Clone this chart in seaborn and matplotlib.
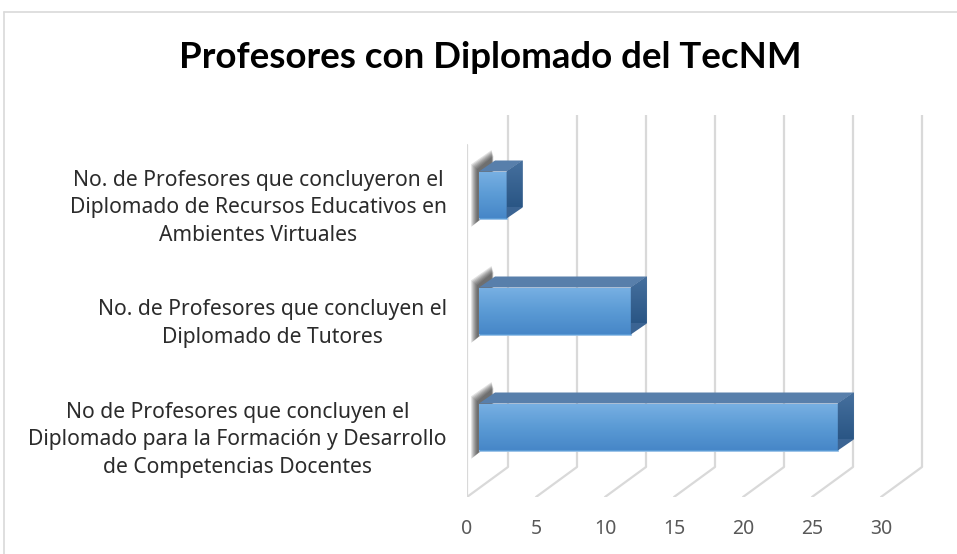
import numpy as np
import pandas as pd
import matplotlib
matplotlib.use("Agg")
import matplotlib.pyplot as plt
import matplotlib.transforms as mtransforms
from matplotlib.patches import Polygon
from matplotlib.colors import LinearSegmentedColormap
import seaborn as sns

categories = [
    "No. de Profesores que concluyeron el\nDiplomado de Recursos Educativos en\nAmbientes Virtuales",
    "No. de Profesores que concluyen el\nDiplomado de Tutores",
    "No de Profesores que concluyen el\nDiplomado para la Formación y Desarrollo\nde Competencias Docentes",
]
values = [2, 11, 26]
tick_values = [0, 5, 10, 15, 20, 25, 30]
title = "Profesores con Diplomado del TecNM"

sns.set_theme(style="white")
plt.rcParams["font.family"] = ["Noto Sans", "DejaVu Sans"]

W, H = 957, 554
fig = plt.figure(figsize=(W / 100, H / 100), dpi=100)

# pixel geometry of the plot box
px_left, px_right, px_top, px_bot = 467, 950, 100, 497
ax = fig.add_axes([px_left / W, 1 - px_bot / H, (px_right - px_left) / W, (px_bot - px_top) / H])

sx = 13.8      # pixels per unit
bar0 = 479     # pixel of value 0 on bar front plane
cy0, cstep = 195, 116  # category centers

def xd(px):
    return (px - bar0) / sx

def yd(py):
    return (py - cy0) / cstep

df = pd.DataFrame({"cat": categories, "val": values})
sns.barplot(data=df, x="val", y="cat", orient="h", width=47 / cstep,
            color="#5b9bd5", ax=ax, zorder=5, saturation=1)
ax.set_xlim(xd(px_left), xd(px_right))
ax.set_ylim(yd(px_bot), yd(px_top))

front_off_x = xd(467)
back_off_x = xd(508)
y_floor_front, y_floor_back = yd(497), yd(467)
y_top_front, y_top_back = yd(145), yd(115)
grid_c = "#d9d9d9"

for v in tick_values:
    xb = v + back_off_x
    xf = v + front_off_x
    ax.plot([xb, xb], [y_top_back, y_floor_back], color=grid_c, lw=1.6, zorder=1, solid_capstyle="butt")
    ax.plot([xb, xf], [y_floor_back, y_floor_front], color=grid_c, lw=1.6, zorder=1)
ax.plot([front_off_x, front_off_x], [y_top_front, y_floor_front], color=grid_c, lw=1.6, zorder=1)

ax.set_xticks([v + front_off_x for v in tick_values])
ax.set_xticklabels([str(v) for v in tick_values])
ax.tick_params(axis="x", length=0, pad=15.5, labelsize=14, labelcolor="#595959")
ax.tick_params(axis="y", length=0, pad=14.5, labelsize=15.2, labelcolor="#2b2b2b")
shift = mtransforms.ScaledTranslation(0, -0.07, fig.dpi_scale_trans)
for lab in ax.get_yticklabels():
    lab.set_horizontalalignment("right")
    lab.set_multialignment("center")
    lab.set_linespacing(1.41)
    lab.set_transform(lab.get_transform() + shift)
ax.set_xlabel("")
ax.set_ylabel("")
for s in ax.spines.values():
    s.set_visible(False)

# bar 3D faces
ddx = 16 / sx
ddy = -11 / cstep
grad = LinearSegmentedColormap.from_list("g", ["#78b0e3", "#5b9bd5", "#4787c8"])
side_grad = LinearSegmentedColormap.from_list("s", ["#46709e", "#2a5685"])
for p in list(ax.patches):
    x0, y0 = p.get_x(), p.get_y()
    w, h = p.get_width(), p.get_height()
    ytop, ybot = y0, y0 + h
    # soft shadow of the hidden left face
    for k in range(7):
        e = (6 - k) * 0.07
        sh = Polygon([(x0 - 0.15 - e, ytop - 0.02 - e * 0.1), (x0 + ddx * 0.9 - e * 0.3, ytop + ddy - 0.04 - e * 0.12),
                      (x0 + ddx * 0.9 - e * 0.3, ybot + ddy + e * 0.08), (x0 - 0.15 - e, ybot + 0.03 + e * 0.1)],
                     closed=True, facecolor="#1a1a1a", edgecolor="none", alpha=0.13, zorder=3)
        ax.add_patch(sh)
    top = Polygon([(x0, ytop), (x0 + w, ytop), (x0 + w + ddx, ytop + ddy), (x0 + ddx, ytop + ddy)],
                  closed=True, facecolor="#587fab", edgecolor="none", zorder=6)
    ax.add_patch(top)
    side = Polygon([(x0 + w, ytop), (x0 + w + ddx, ytop + ddy), (x0 + w + ddx, ybot + ddy), (x0 + w, ybot)],
                   closed=True, facecolor="#3b6493", edgecolor="none", zorder=6)
    ax.add_patch(side)
    im = ax.imshow(np.linspace(0, 1, 64).reshape(-1, 1), cmap=side_grad, aspect="auto",
                   extent=(x0 + w, x0 + w + ddx, ybot + ddy, ytop + ddy), zorder=6.5,
                   interpolation="bilinear")
    im.set_clip_path(side)
    im2 = ax.imshow(np.linspace(0, 1, 64).reshape(-1, 1), cmap=grad, aspect="auto",
                    extent=(x0, x0 + w, ybot, ytop), zorder=5.5, interpolation="bilinear")
    im2.set_clip_path(p)
    p.set_edgecolor("#9cc3e8")
    p.set_linewidth(0.6)

ax.set_xlim(xd(px_left), xd(px_right))
ax.set_ylim(yd(px_bot), yd(px_top))

fig.text(490 / W, 1 - 57 / H, title, ha="center", va="center", fontsize=26.4,
         fontweight="bold", family=["Lato", "DejaVu Sans"], color="#000000")

fig.add_artist(plt.Line2D([4 / W, 4 / W], [0, 1 - 12 / H], color="#d9d9d9", lw=1.2))
fig.add_artist(plt.Line2D([4 / W, 1], [1 - 12 / H, 1 - 12 / H], color="#d9d9d9", lw=1.2))

fig.savefig("out.png", dpi=100, facecolor="white")
